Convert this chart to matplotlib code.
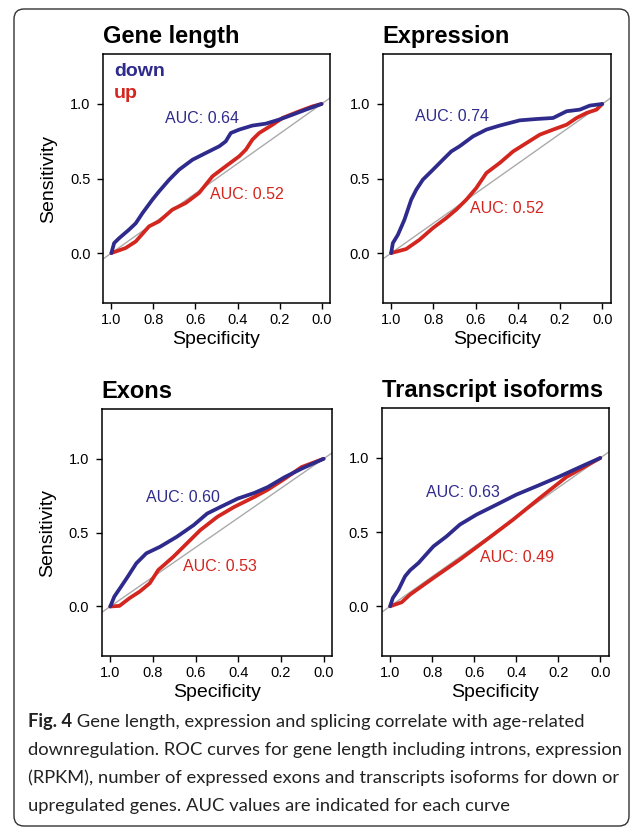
import matplotlib
matplotlib.use("Agg")
import matplotlib.pyplot as plt
from matplotlib.patches import FancyBboxPatch

plt.rcParams['font.family'] = ['Liberation Sans', 'DejaVu Sans']

BLUE = '#2e2b8c'
RED = '#d3261f'

# ROC curves: specificity (x, reversed) and sensitivity (y)
titles = ['Gene length', 'Expression', 'Exons', 'Transcript isoforms']

gene_down_spec = [1.0, 0.987, 0.963, 0.916, 0.884, 0.852, 0.805, 0.773, 0.725, 0.678, 0.614,
                  0.551, 0.487, 0.456, 0.432, 0.392, 0.329, 0.265, 0.202, 0.138, 0.075, 0.0]
gene_down_sens = [0.0, 0.067, 0.10, 0.157, 0.20, 0.268, 0.358, 0.414, 0.492, 0.559, 0.626,
                  0.671, 0.716, 0.749, 0.805, 0.828, 0.855, 0.868, 0.895, 0.928, 0.962, 1.0]
gene_up_spec = [1.0, 0.932, 0.884, 0.821, 0.773, 0.71, 0.646, 0.583, 0.519, 0.456, 0.392,
                0.36, 0.329, 0.297, 0.233, 0.186, 0.106, 0.043, 0.0]
gene_up_sens = [0.0, 0.034, 0.078, 0.179, 0.213, 0.291, 0.336, 0.403, 0.515, 0.582, 0.649,
                0.694, 0.761, 0.805, 0.861, 0.906, 0.951, 0.984, 1.0]

expr_down_spec = [1.0, 0.992, 0.968, 0.937, 0.905, 0.881, 0.85, 0.802, 0.755, 0.715, 0.676,
                  0.612, 0.549, 0.486, 0.391, 0.312, 0.233, 0.169, 0.106, 0.059, 0.0]
expr_down_sens = [0.0, 0.067, 0.123, 0.224, 0.358, 0.425, 0.492, 0.559, 0.626, 0.682, 0.716,
                  0.783, 0.828, 0.855, 0.89, 0.899, 0.906, 0.951, 0.962, 0.989, 1.0]
expr_up_spec = [1.0, 0.929, 0.866, 0.802, 0.739, 0.692, 0.644, 0.597, 0.549, 0.486, 0.422,
                0.359, 0.296, 0.233, 0.169, 0.122, 0.074, 0.027, 0.0]
expr_up_sens = [0.0, 0.027, 0.089, 0.168, 0.235, 0.291, 0.358, 0.436, 0.537, 0.604, 0.682,
                0.738, 0.794, 0.828, 0.861, 0.906, 0.94, 0.962, 1.0]

exon_down_spec = [1.0, 0.981, 0.949, 0.918, 0.878, 0.831, 0.767, 0.688, 0.609, 0.546, 0.483,
                  0.403, 0.324, 0.261, 0.182, 0.103, 0.0]
exon_down_sens = [0.0, 0.067, 0.135, 0.202, 0.292, 0.36, 0.404, 0.472, 0.551, 0.629, 0.674,
                  0.73, 0.769, 0.809, 0.876, 0.933, 1.0]
exon_up_spec = [1.0, 0.957, 0.91, 0.862, 0.815, 0.775, 0.704, 0.641, 0.578, 0.498, 0.419,
                0.324, 0.261, 0.182, 0.103, 0.0]
exon_up_sens = [0.0, 0.004, 0.056, 0.101, 0.157, 0.247, 0.337, 0.427, 0.517, 0.607, 0.674,
                0.742, 0.791, 0.865, 0.944, 1.0]

iso_down_spec = [1.0, 0.987, 0.96, 0.929, 0.905, 0.865, 0.794, 0.731, 0.668, 0.589, 0.494,
                 0.399, 0.304, 0.193, 0.082, 0.0]
iso_down_sens = [0.0, 0.056, 0.112, 0.202, 0.243, 0.292, 0.404, 0.472, 0.551, 0.618, 0.685,
                 0.753, 0.809, 0.876, 0.948, 1.0]
iso_up_spec = [1.0, 0.945, 0.905, 0.794, 0.668, 0.541, 0.415, 0.288, 0.161, 0.0]
iso_up_sens = [0.0, 0.027, 0.079, 0.191, 0.315, 0.449, 0.584, 0.73, 0.872, 1.0]

down_auc = ['AUC: 0.64', 'AUC: 0.74', 'AUC: 0.60', 'AUC: 0.63']
up_auc = ['AUC: 0.52', 'AUC: 0.52', 'AUC: 0.53', 'AUC: 0.49']
# label anchors (specificity, sensitivity) for the AUC text
down_auc_pos = [(0.746, 0.90), (0.885, 0.917), (0.834, 0.735), (0.829, 0.769)]
up_auc_pos = [(0.532, 0.39), (0.628, 0.298), (0.657, 0.27), (0.573, 0.33)]

curves = [
    (gene_down_spec, gene_down_sens, gene_up_spec, gene_up_sens),
    (expr_down_spec, expr_down_sens, expr_up_spec, expr_up_sens),
    (exon_down_spec, exon_down_sens, exon_up_spec, exon_up_sens),
    (iso_down_spec, iso_down_sens, iso_up_spec, iso_up_sens),
]

caption_bold = 'Fig. 4'
caption_lines = [
    ' Gene length, expression and splicing correlate with age-related',
    'downregulation. ROC curves for gene length including introns, expression',
    '(RPKM), number of expressed exons and transcripts isoforms for down or',
    'upregulated genes. AUC values are indicated for each curve',
]

fig = plt.figure(figsize=(6.33, 8.27), dpi=100)

# rounded frame around the figure
frame = FancyBboxPatch((0.14, 0.01), 6.15, 8.17, boxstyle='round,pad=0,rounding_size=0.1',
                       transform=fig.dpi_scale_trans, fill=False, edgecolor='#333333', lw=1.0)
fig.patches.append(frame)

# axes positions [left, bottom, width, height] in figure fraction
positions = [
    [0.1627, 0.6336, 0.3586, 0.3011],
    [0.6046, 0.6336, 0.3602, 0.3011],
    [0.1607, 0.2068, 0.3640, 0.2983],
    [0.6030, 0.2068, 0.3586, 0.2995],
]

for i, (pos, title, (ds, dv, us, uv)) in enumerate(zip(positions, titles, curves)):
    ax = fig.add_axes(pos)
    ax.axline((1, 0), (0, 1), color='#aaaaaa', lw=1.0, zorder=1)
    ax.plot(us, uv, color=RED, lw=2.7, solid_capstyle='round', zorder=2)
    ax.plot(ds, dv, color=BLUE, lw=2.7, solid_capstyle='round', zorder=3)
    ax.set_xlim(1.04, -0.04)
    ax.set_ylim(-0.335, 1.335)
    ax.set_xticks([1.0, 0.8, 0.6, 0.4, 0.2, 0.0])
    ax.set_xticklabels(['1.0', '0.8', '0.6', '0.4', '0.2', '0.0'])
    ax.set_yticks([0.0, 0.5, 1.0])
    ax.set_yticklabels(['0.0', '0.5', '1.0'])
    ax.tick_params(direction='out', length=4, width=1.0, labelsize=10.5, pad=3)
    ax.tick_params(axis='y', pad=5)
    for s in ax.spines.values():
        s.set_linewidth(1.1)
    ax.set_xlabel('Specificity', fontsize=14, labelpad=3)
    if i % 2 == 0:
        ax.set_ylabel('Sensitivity', fontsize=14, labelpad=9)
    ax.text(0.0, 1.045, title, transform=ax.transAxes, fontsize=17, fontweight='bold',
            ha='left', va='baseline')
    ax.text(down_auc_pos[i][0], down_auc_pos[i][1], down_auc[i], color=BLUE, fontsize=11.5,
            ha='left', va='center')
    ax.text(up_auc_pos[i][0], up_auc_pos[i][1], up_auc[i], color=RED, fontsize=11.5,
            ha='left', va='center')
    if i == 0:
        ax.text(0.987, 1.22, 'down', color=BLUE, fontsize=14, fontweight='bold',
                ha='left', va='center')
        ax.text(0.99, 1.07, 'up', color=RED, fontsize=14, fontweight='bold',
                ha='left', va='center')

# caption: size chosen so the longest line spans the same width as in the figure
cap_font = ['Lato', 'DejaVu Sans']
probe = fig.text(0, 0, caption_lines[1], fontsize=14, family=cap_font)
fig.canvas.draw()
cap_size = 14 * 596 / probe.get_window_extent().width
probe.remove()

y0 = 1 - 727 / 827
step = 28 / 827
t = fig.text(28 / 633, y0, caption_bold, fontsize=cap_size, fontweight='bold', family=cap_font,
             va='baseline', ha='left', color='#222222')
fig.canvas.draw()
bb = t.get_window_extent()
fig.text(bb.x1 / 633, y0, caption_lines[0], fontsize=cap_size, family=cap_font,
         va='baseline', ha='left', color='#222222')
for k, line in enumerate(caption_lines[1:], start=1):
    fig.text(28 / 633, y0 - k * step, line, fontsize=cap_size, family=cap_font,
             va='baseline', ha='left', color='#222222')

fig.savefig('out.png', dpi=100)
